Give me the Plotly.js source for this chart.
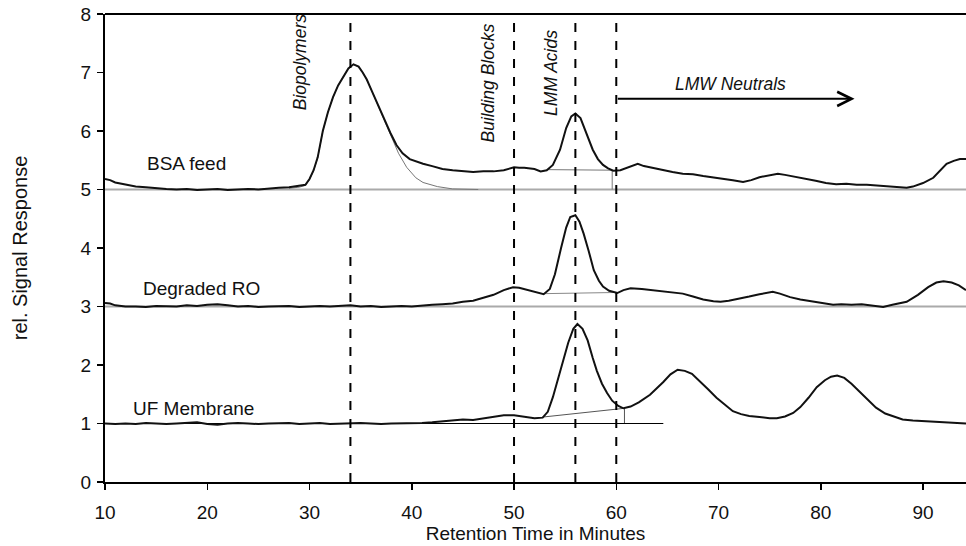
<!DOCTYPE html>
<html>
<head>
<meta charset="utf-8">
<script src="https://cdn.plot.ly/plotly-3.0.1.min.js"></script>
<style>html,body{margin:0;padding:0;background:#fff}#chart{width:966px;height:546px}</style>
</head>
<body>
<div id="chart"></div>
<script>
// Retention time (minutes) and signal for each sample
const bsaX = [10,10.5,11,12,13,14,15,16,17,18,19,20,21,22,23,24,25,26,27,28,29,29.6,30,30.4,30.8,31.3,31.8,32.3,32.8,33.3,33.8,34.3,34.8,35.2,35.6,36.1,36.6,37.2,37.9,38.5,39.1,39.8,40.5,41.1,42,43,44,45,46,47,48,49,50,50.5,51,52,52.6,53.2,53.8,54.5,55.1,55.6,56,56.5,57.1,57.7,58.2,58.7,59.2,59.7,60.4,61,61.6,62.1,62.7,63.5,64.5,65.5,66.5,67.5,68.5,69.5,70.5,71.4,72.4,73.2,74,75,75.8,76.5,77.5,78.5,79.5,80.5,81.5,82.5,83.5,84.5,85.5,86.5,87.5,88.4,89,90,91,91.7,92.3,93,93.6,94.2];
const bsaY = [5.18,5.16,5.12,5.08,5.05,5.04,5.02,5.01,5.0,5.01,4.99,5.0,5.01,4.99,5.0,5.01,5.0,5.02,5.03,5.04,5.06,5.08,5.18,5.33,5.55,6.0,6.32,6.58,6.78,6.93,7.07,7.14,7.1,7.0,6.88,6.68,6.48,6.24,5.97,5.76,5.62,5.52,5.47,5.44,5.40,5.35,5.33,5.31,5.30,5.31,5.31,5.33,5.38,5.37,5.37,5.35,5.31,5.33,5.42,5.68,6.05,6.25,6.30,6.22,5.96,5.68,5.52,5.42,5.36,5.32,5.33,5.37,5.41,5.44,5.40,5.37,5.33,5.30,5.27,5.26,5.23,5.21,5.19,5.16,5.13,5.16,5.21,5.25,5.27,5.25,5.22,5.18,5.15,5.11,5.09,5.10,5.08,5.08,5.07,5.06,5.05,5.03,5.05,5.11,5.2,5.32,5.44,5.49,5.52,5.52];

const roX = [10,10.5,11,12,13,14,15,16,17,18,19,20,21,22,23,24,25,26,27,28,29,30,31,32,33,34,35,36,37,38,39,40,41,42,43,44,45,46,47,48,49,49.9,50.5,51.2,52,52.9,53.5,54,54.6,55.1,55.5,56,56.4,56.8,57.3,57.8,58.3,58.7,59.3,60.1,60.7,61.4,62.5,63.5,64.6,65.6,66.5,67.5,68.5,69.5,70.2,71,72,73,74,75.3,76,77,78,79,80,81.2,82,83,84,85,86.1,87,88.4,89.5,90.5,91.3,92,92.8,93.5,94.2];
const roY = [3.06,3.05,3.02,3.0,3.0,2.99,3.01,3.0,3.0,3.02,3.01,3.03,3.04,3.02,3.0,3.01,2.99,3.0,3.0,3.01,2.99,3.0,3.01,3.0,3.01,3.02,3.0,3.01,2.99,3.0,3.01,3.0,3.02,3.03,3.04,3.05,3.08,3.1,3.15,3.2,3.28,3.33,3.32,3.29,3.25,3.21,3.3,3.55,4.0,4.35,4.53,4.56,4.45,4.25,3.95,3.62,3.44,3.34,3.27,3.23,3.28,3.31,3.30,3.28,3.26,3.25,3.22,3.17,3.12,3.09,3.08,3.10,3.13,3.17,3.21,3.25,3.22,3.16,3.12,3.09,3.06,3.03,3.04,3.03,3.04,3.02,2.99,3.03,3.08,3.2,3.33,3.41,3.43,3.41,3.36,3.28];

const ufX = [10,11,12,13,14,15,16,17,18,19,20,21,22,23,24,25,26,27,28,29,30,31,32,33,34,35,36,37,38,39,40,41,42,43,44,45,46,47,48,49,50,51,52,52.8,53.3,53.8,54.3,54.8,55.3,55.8,56.2,56.7,57.2,57.7,58.1,58.6,59.1,59.6,60.2,60.7,61.4,62.2,63.3,64.6,65.3,66,66.7,67.4,68.2,69,69.8,70.6,71.4,72.2,73,74,75,75.7,76.5,77.3,78,78.8,79.6,80.4,81,81.6,82.3,83,83.7,84.5,85.4,86.3,87.2,88,89,90,91,92,93,94.2];
const ufY = [1.0,0.99,1.0,0.99,1.01,1.0,0.99,1.0,1.01,1.02,0.99,0.98,1.0,1.01,1.0,0.99,1.0,1.0,1.01,0.99,1.0,1.01,0.99,1.0,1.0,1.01,1.0,0.99,1.0,1.0,1.0,1.01,1.02,1.04,1.05,1.07,1.06,1.09,1.12,1.14,1.14,1.11,1.09,1.1,1.2,1.45,1.75,2.07,2.38,2.62,2.70,2.62,2.42,2.12,1.90,1.68,1.52,1.39,1.3,1.26,1.29,1.36,1.49,1.71,1.84,1.92,1.90,1.85,1.72,1.58,1.44,1.32,1.21,1.16,1.13,1.11,1.09,1.09,1.12,1.18,1.28,1.44,1.62,1.74,1.8,1.82,1.78,1.68,1.56,1.42,1.27,1.17,1.11,1.07,1.05,1.04,1.03,1.02,1.01,1.0];

// Fitted biopolymer peak (thin grey) and integration baselines
const bsaFitX = [28,29,29.6,30,30.4,30.8,31.3,31.8,32.3,32.8,33.3,33.8,34.3,34.8,35.2,35.6,36.1,36.6,37.2,37.9,38.7,39.5,40.4,41.1,42.5,44,46.5];
const bsaFitY = [5.02,5.04,5.07,5.17,5.32,5.54,6.0,6.32,6.58,6.78,6.93,7.07,7.14,7.1,7.0,6.88,6.68,6.48,6.24,5.94,5.62,5.38,5.2,5.12,5.05,5.01,5.0];
const bsaBaseX = [53.2,59.6,59.6];
const bsaBaseY = [5.34,5.33,5.0];
const roBaseX = [53.0,60.1];
const roBaseY = [3.22,3.24];
const ufBaseX = [52.8,60.8,60.8];
const ufBaseY = [1.11,1.26,1.0];
const ufZeroX = [10,64.6];
const ufZeroY = [1.0,1.0];

// Fraction boundaries (minutes)
const fractionBounds = [34,50,56,60];
const offsetLevels = [5,3];

// Text labels
const sampleNames = ["BSA feed","Degraded RO","UF Membrane"];
const sampleLabelX = [18.0,19.4,18.7];
const sampleLabelY = [5.45,3.30,1.25];
const fractionNames = ["Biopolymers","Building Blocks","LMM Acids"];
const fractionLabelX = [29.1,47.5,53.6];
const fractionLabelY = [7.18,6.82,6.99];
const neutralsLabel = {text:"LMW Neutrals", x:71.2, y:6.8};
const arrowFrom = [60, 6.55];
const arrowTo = [83.3, 6.55];

const FONT = "Liberation Sans, Arial, sans-serif";

const traces = [
  {x:bsaFitX, y:bsaFitY, mode:"lines", line:{color:"#777", width:1}, hoverinfo:"skip"},
  {x:bsaBaseX, y:bsaBaseY, mode:"lines", line:{color:"#777", width:1}, hoverinfo:"skip"},
  {x:roBaseX, y:roBaseY, mode:"lines", line:{color:"#888", width:1}, hoverinfo:"skip"},
  {x:ufBaseX, y:ufBaseY, mode:"lines", line:{color:"#555", width:1}, hoverinfo:"skip"},
  {x:ufZeroX, y:ufZeroY, mode:"lines", line:{color:"#000", width:1}, hoverinfo:"skip"},
  {x:bsaX, y:bsaY, mode:"lines", name:sampleNames[0], line:{color:"#111", width:2}},
  {x:roX, y:roY, mode:"lines", name:sampleNames[1], line:{color:"#111", width:2}},
  {x:ufX, y:ufY, mode:"lines", name:sampleNames[2], line:{color:"#111", width:2}}
];

const shapes = [];
offsetLevels.forEach(v => shapes.push({type:"line", xref:"paper", x0:0, x1:1, yref:"y", y0:v, y1:v, line:{color:"#aaa", width:2}, layer:"below"}));
fractionBounds.forEach(v => shapes.push({type:"line", xref:"x", x0:v, x1:v, yref:"paper", y0:0, y1:1, line:{color:"#000", width:2, dash:"dash"}}));
shapes.push({type:"line", xref:"paper", x0:0, x1:1, yref:"paper", y0:1, y1:1, line:{color:"#000", width:2}});

const annotations = [];
sampleNames.forEach((t,i) => annotations.push({text:t, x:sampleLabelX[i], y:sampleLabelY[i], xref:"x", yref:"y", showarrow:false, font:{family:FONT, size:19, color:"#111"}}));
fractionNames.forEach((t,i) => annotations.push({text:"<i>"+t+"</i>", x:fractionLabelX[i], y:fractionLabelY[i], xref:"x", yref:"y", showarrow:false, textangle:-90, font:{family:FONT, size:17.5, color:"#111"}}));
annotations.push({text:"<i>"+neutralsLabel.text+"</i>", x:neutralsLabel.x, y:neutralsLabel.y, xref:"x", yref:"y", showarrow:false, font:{family:FONT, size:17.5, color:"#111"}});
annotations.push({text:"", x:arrowTo[0], y:arrowTo[1], ax:arrowFrom[0], ay:arrowFrom[1], xref:"x", yref:"y", axref:"x", ayref:"y", showarrow:true, arrowhead:5, arrowsize:1.4, arrowwidth:2, arrowcolor:"#000"});

const layout = {
  width:966, height:546,
  margin:{l:105, r:0, t:14, b:64},
  paper_bgcolor:"#fff", plot_bgcolor:"#fff",
  showlegend:false,
  font:{family:FONT, size:17, color:"#111"},
  xaxis:{range:[10,94.2], tickvals:[10,20,30,40,50,60,70,80,90], showgrid:false, zeroline:false,
         showline:true, linecolor:"#000", linewidth:2, ticks:"outside", ticklen:6, tickwidth:1.5, tickcolor:"#000",
         tickfont:{family:FONT, size:19, color:"#111"}, ticklabelstandoff:6,
         title:{text:"Retention Time in Minutes", font:{family:FONT, size:19, color:"#111"}, standoff:2}},
  yaxis:{range:[0,8], dtick:1, showgrid:false, zeroline:false,
         showline:true, linecolor:"#000", linewidth:2, ticks:"outside", ticklen:6, tickwidth:1.5, tickcolor:"#000",
         tickfont:{family:FONT, size:19, color:"#111"}, ticklabelstandoff:2,
         title:{text:"rel. Signal Response", font:{family:FONT, size:20, color:"#111"}, standoff:48}},
  shapes:shapes,
  annotations:annotations
};

Plotly.newPlot("chart", traces, layout, {staticPlot:true, displayModeBar:false});
</script>
</body>
</html>
